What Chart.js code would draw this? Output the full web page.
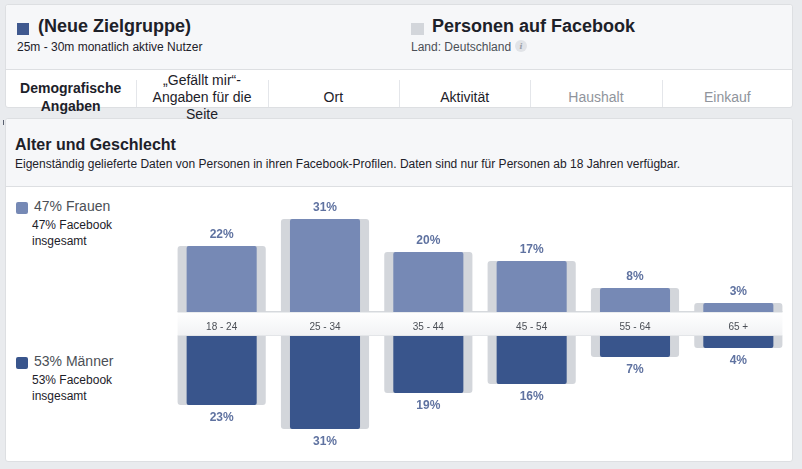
<!DOCTYPE html>
<html>
<head>
<meta charset="utf-8">
<script src="https://cdn.jsdelivr.net/npm/chart.js@4/dist/chart.umd.min.js"></script>
<style>
  html, body { margin:0; padding:0; }
  body { width:802px; height:469px; background:#e9ebee; position:relative; overflow:hidden;
         font-family:"Liberation Sans", Arial, Helvetica, sans-serif; color:#1d2129; }
  .abs { position:absolute; white-space:nowrap; }
  .panel { position:absolute; background:#fff; border:1px solid #dddfe2; border-radius:3px; box-sizing:border-box; }
  .sep { position:absolute; width:1px; background:#e4e6ea; top:80px; height:27px; }
  .tab { position:absolute; text-align:center; font-size:14px; line-height:17px; color:#1d2129; }
</style>
</head>
<body>
<!-- top panel -->
<div class="panel" style="left:5px; top:4px; width:788px; height:104px; overflow:visible;">
  <div style="position:absolute; left:0; top:0; right:0; height:64px; background:#f6f7f9; border-bottom:1px solid #dddfe2; border-radius:3px 3px 0 0;"></div>
</div>
<div class="abs" style="left:17px; top:23px; width:12px; height:12px; background:#40598f;"></div>
<div class="abs" style="left:38px; top:15px; font-size:18px; line-height:22px; font-weight:bold; color:#1d2129;" id="audTitle"></div>
<div class="abs" style="left:17px; top:40px; font-size:12px; line-height:14px; color:#1d2129;" id="audSub"></div>
<div class="abs" style="left:411px; top:23px; width:13px; height:12px; background:#d3d6db;"></div>
<div class="abs" style="left:432px; top:15px; font-size:18px; line-height:22px; font-weight:bold; color:#1d2129;" id="fbTitle"></div>
<div class="abs" style="left:411px; top:40px; font-size:12px; line-height:14px; color:#4b4f56;" id="fbSub"></div>
<div class="abs" style="left:515px; top:40px; width:12px; height:12px; border-radius:6px; background:#e1e3e7; color:#9aa0a8; font-family:'DejaVu Serif', serif; font-style:italic; font-weight:bold; font-size:8px; line-height:12px; text-align:center;">i</div>

<div id="tabs"></div>

<!-- second panel -->
<div class="panel" style="left:5px; top:118px; width:788px; height:344px; z-index:1;">
  <div style="position:absolute; left:0; top:0; right:0; height:67px; background:#f6f7f9; border-bottom:1px solid #dddfe2; border-radius:3px 3px 0 0;"></div>
</div>
<div class="abs" style="left:3px; top:120px; width:1px; height:5px; background:#5a6170; z-index:2;"></div>
<div class="abs" style="left:15px; top:135px; font-size:16px; line-height:20px; font-weight:bold; color:#1d2129; z-index:2;" id="secTitle"></div>
<div class="abs" style="left:15px; top:157px; font-size:12px; line-height:14px; color:#1d2129; z-index:2;" id="secSub"></div>

<!-- legend -->
<div class="abs" style="left:16px; top:202px; width:12px; height:12px; border-radius:2px; background:#7689b5; z-index:2;"></div>
<div class="abs" style="left:34px; top:198px; font-size:14px; line-height:17px; color:#4b4f56; z-index:2;" id="wLab"></div>
<div class="abs" style="left:32px; top:217px; font-size:12px; line-height:16px; color:#1d2129; z-index:2;" id="wSub"></div>
<div class="abs" style="left:16px; top:357px; width:12px; height:12px; border-radius:2px; background:#39558c; z-index:2;"></div>
<div class="abs" style="left:34px; top:353px; font-size:14px; line-height:17px; color:#4b4f56; z-index:2;" id="mLab"></div>
<div class="abs" style="left:32px; top:372px; font-size:12px; line-height:16px; color:#1d2129; z-index:2;" id="mSub"></div>

<div class="abs" style="left:170px; top:190px; width:620px; height:146px; z-index:3;"><canvas id="top" width="620" height="146"></canvas></div>
<div class="abs" style="left:170px; top:336px; width:620px; height:126px; z-index:3;"><canvas id="bot" width="620" height="126"></canvas></div>

<script>
// ---- data ----
const categories = ['18 - 24', '25 - 34', '35 - 44', '45 - 54', '55 - 64', '65 +'];
const women = [22, 31, 20, 17, 8, 3];
const men = [23, 31, 19, 16, 7, 4];
const facebookWomen = [22, 31, 20, 17, 8, 3];
const facebookMen = [23, 31, 19, 16, 7, 4];
const tabLabels = ['Demografische<br>Angaben', '„Gefällt mir“-<br>Angaben für die<br>Seite', 'Ort', 'Aktivität', 'Haushalt', 'Einkauf'];
const womenShare = 47, menShare = 53, fbWomenShare = 47, fbMenShare = 53;

// ---- texts ----
document.getElementById('audTitle').textContent = '(Neue Zielgruppe)';
document.getElementById('audSub').textContent = '25m - 30m monatlich aktive Nutzer';
document.getElementById('fbTitle').textContent = 'Personen auf Facebook';
document.getElementById('fbSub').textContent = 'Land: Deutschland';
document.getElementById('secTitle').textContent = 'Alter und Geschlecht';
document.getElementById('secSub').textContent = 'Eigenständig gelieferte Daten von Personen in ihren Facebook-Profilen. Daten sind nur für Personen ab 18 Jahren verfügbar.';
document.getElementById('wLab').textContent = womenShare + '% Frauen';
document.getElementById('wSub').innerHTML = fbWomenShare + '% Facebook<br>insgesamt';
document.getElementById('mLab').textContent = menShare + '% Männer';
document.getElementById('mSub').innerHTML = fbMenShare + '% Facebook<br>insgesamt';

// tabs
const tabsEl = document.getElementById('tabs');
const cellW = 788 / 6;
tabLabels.forEach((t, i) => {
  const d = document.createElement('div');
  d.className = 'tab';
  d.style.left = (5 + i * cellW) + 'px';
  d.style.width = cellW + 'px';
  const lines = t.split('<br>').length;
  if (i === 0) { d.style.top = '79px'; d.style.lineHeight = '18px'; d.style.fontWeight = 'bold'; }
  else if (lines === 3) { d.style.top = '72px'; }
  else { d.style.top = '89px'; }
  if (i >= 4) d.style.color = '#90949c';
  if (i === 1) d.style.zIndex = 2;
  d.innerHTML = t;
  tabsEl.appendChild(d);
  if (i > 0) {
    const s = document.createElement('div');
    s.className = 'sep';
    s.style.left = Math.round(5 + i * cellW) + 'px';
    tabsEl.appendChild(s);
  }
});

// ---- charts ----
const WOMEN_C = '#7689b5', MEN_C = '#39558c', GRAY_C = '#d3d6db', LABEL_C = '#5f72a0';
const FONT = '"Liberation Sans", Arial, Helvetica, sans-serif';

const valueLabels = {
  id: 'valueLabels',
  afterDatasetsDraw(chart, args, opts) {
    const ctx = chart.ctx;
    const meta = chart.getDatasetMeta(0);
    const gmeta = chart.getDatasetMeta(1);
    ctx.save();
    ctx.font = 'bold 12px ' + FONT;
    ctx.fillStyle = LABEL_C;
    ctx.textAlign = 'center';
    ctx.textBaseline = 'middle';
    meta.data.forEach((el, i) => {
      const v = chart.data.datasets[0].data[i];
      const g = gmeta.data[i];
      if (opts.dir < 0) {
        const y = Math.min(el.y, g.y);
        ctx.fillText(v + '%', el.x, y - 11.5);
      } else {
        const y = Math.max(el.y, g.y);
        ctx.fillText(v + '%', el.x, y + 13);
      }
    });
    ctx.restore();
  }
};

const band = {
  id: 'band',
  beforeDraw(chart) {
    const ctx = chart.ctx;
    const g = chart.getDatasetMeta(1).data;
    const x0 = g[0].x - g[0].width / 2;
    const x1 = g[g.length - 1].x + g[g.length - 1].width / 2;
    const y0 = chart.chartArea.bottom, y1 = chart.height;
    ctx.save();
    const grad = ctx.createLinearGradient(0, y0, 0, y1);
    grad.addColorStop(0, '#ffffff');
    grad.addColorStop(1, '#f1f2f4');
    ctx.fillStyle = grad;
    ctx.fillRect(x0, y0, x1 - x0, y1 - y0);
    ctx.fillStyle = '#d6d9dd';
    ctx.fillRect(x0, y0 - 1, x1 - x0, 1.5);
    ctx.fillStyle = '#e3e5e8';
    ctx.fillRect(x0, y1 - 1, x1 - x0, 1);
    ctx.restore();
  }
};

function makeChart(id, vals, fbVals, color, isTop) {
  const xScale = {
    display: isTop,
    grid: { display: false },
    border: { display: false },
    ticks: { color: '#4b4f56', font: { size: 10, family: FONT }, padding: 1, maxRotation: 0, autoSkip: false }
  };
  if (isTop) xScale.afterFit = (s) => { s.height = 24; };
  return new Chart(document.getElementById(id), {
    type: 'bar',
    data: {
      labels: categories,
      datasets: [
        { data: vals, backgroundColor: color, barPercentage: 0.678, categoryPercentage: 1,
          borderRadius: 2, borderSkipped: 'start', order: 1, grouped: false },
        { data: fbVals, backgroundColor: GRAY_C, barPercentage: 0.853, categoryPercentage: 1,
          borderRadius: 3, borderSkipped: 'start', order: 2, grouped: false }
      ]
    },
    options: {
      responsive: false,
      animation: false,
      layout: { padding: isTop ? { top: 0 } : { bottom: 6 } },
      plugins: { legend: { display: false }, tooltip: { enabled: false },
                 valueLabels: { dir: isTop ? -1 : 1 } },
      scales: {
        x: xScale,
        y: { display: false, min: 0, max: isTop ? 40.67 : 40, reverse: !isTop }
      }
    },
    plugins: isTop ? [band, valueLabels] : [valueLabels]
  });
}

makeChart('top', women, facebookWomen, WOMEN_C, true);
makeChart('bot', men, facebookMen, MEN_C, false);
</script>
</body>
</html>
